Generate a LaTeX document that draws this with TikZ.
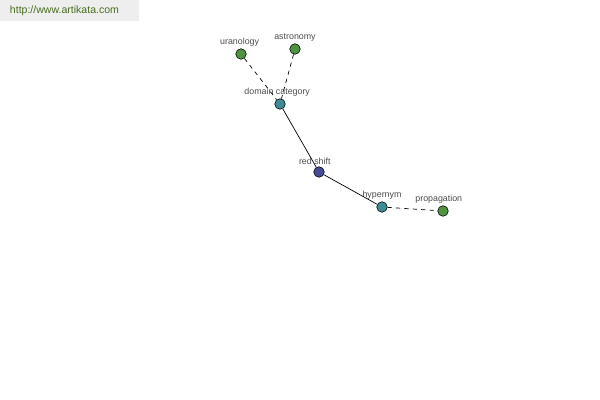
\documentclass[tikz,border=0pt]{standalone}
\usepackage{fontspec}
\setmainfont{Liberation Sans}
\usetikzlibrary{positioning}
\definecolor{termgreen}{RGB}{78,148,62}
\definecolor{termteal}{RGB}{62,140,150}
\definecolor{termblue}{RGB}{68,76,150}
\definecolor{bannergray}{RGB}{238,238,238}
\definecolor{bannertext}{RGB}{70,110,30}
\tikzset{
  term/.style={
    circle,
    draw=black,
    line width=0.4pt,
    minimum size=7.5pt,
    inner sep=0pt
  },
  term-green/.style={term, fill=termgreen},
  term-teal/.style={term, fill=termteal},
  term-blue/.style={term, fill=termblue},
  lbl/.style={font=\fontsize{6.3pt}{7pt}\selectfont, text=black!70, inner sep=1pt},
  link/.style={line width=0.5pt},
  weaklink/.style={line width=0.5pt, dash pattern=on 3pt off 3pt}
}

\begin{document}
\begin{tikzpicture}[x=0.025cm, y=-0.025cm]
  \useasboundingbox (0,0) rectangle (600,400);
  \fill[bannergray] (0,0) rectangle (139,21);
  \node[text=bannertext, font=\fontsize{7.5pt}{9pt}\selectfont, anchor=west] (site) at (5,11) {http://www.artikata.com};
  % terms
  \node[term-green, label={[lbl, xshift=-1pt]above:uranology}] (uranology) at (241,54) {};
  \node[term-green, label={[lbl]above:astronomy}] (astronomy) at (295,49) {};
  \node[term-teal, label={[lbl, xshift=-2pt]above:domain category}] (domain) at (280,104) {};
  \node[term-blue, label={[lbl, xshift=-3pt]above:red shift}] (redshift) at (319,172) {};
  \node[term-teal, label={[lbl]above:hypernym}] (hypernym) at (382,207) {};
  \node[term-green, label={[lbl, xshift=-3pt]above:propagation}] (propagation) at (443,211) {};
  % links
  \foreach \a/\b in {uranology/domain,astronomy/domain,hypernym/propagation} {
    \draw[weaklink] (\a) -- (\b);
  }
  \draw[link] (domain) -- (redshift);
  \draw[link] (redshift) -- (hypernym);
\end{tikzpicture}
\end{document}
